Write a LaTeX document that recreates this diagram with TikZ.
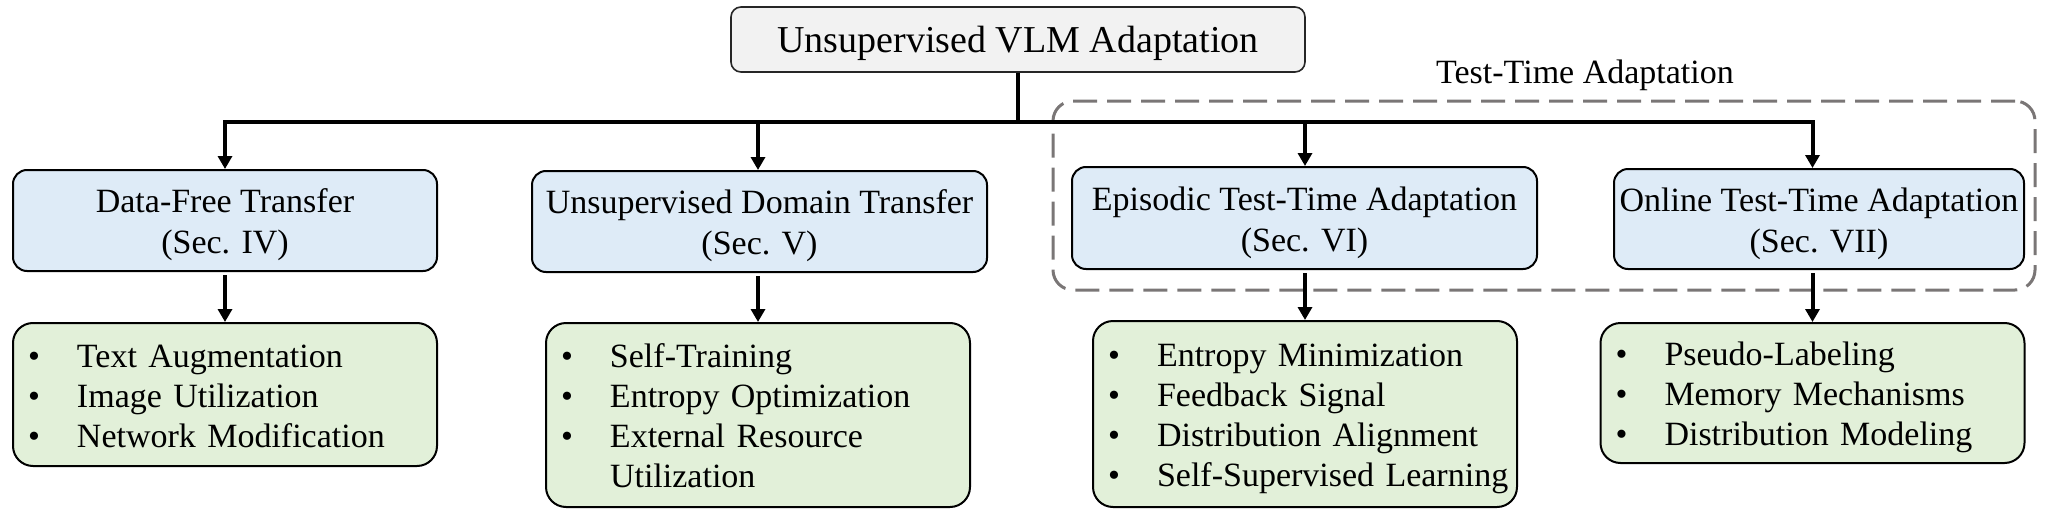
\documentclass[tikz,border=0pt]{standalone}
\usepackage{fontspec}
\setmainfont{Liberation Serif}
\usetikzlibrary{arrows.meta}
\definecolor{rootgray}{RGB}{242,242,242}
\definecolor{secblue}{RGB}{222,235,247}
\definecolor{lstgreen}{RGB}{226,240,217}
\definecolor{ttagray}{RGB}{122,118,118}
\newcommand{\topln}{\rule{0pt}{17.5pt}}
\newcommand{\botln}{\rule[-5pt]{0pt}{5pt}}
\newcommand{\itm}[1]{\makebox[24.5pt][l]{\textbullet}\mbox{#1}}

\begin{document}
\begin{tikzpicture}[>={Triangle[length=6.5pt,width=7pt]},x=.5pt,y=-.5pt,
  root/.style={draw=black!85,line width=.8pt,fill=rootgray,rounded corners=5pt,
    minimum width=287pt,minimum height=32.5pt,inner sep=0pt,
    text height=18.5pt,text depth=5pt,font=\fontsize{19}{23}\selectfont},
  sec/.style={draw=black,line width=1pt,fill=secblue,rounded corners=7pt,
    minimum width=#1,minimum height=50.5pt,inner sep=0pt,align=center,
    font=\fontsize{17}{20.5}\selectfont},
  lst/.style={draw=black,line width=1pt,fill=lstgreen,rounded corners=10pt,
    minimum height=#1,inner xsep=7.5pt,inner ysep=0pt,text width=197pt,align=left,
    font=\fontsize{17}{20}\selectfont},
  tta/.style={draw=ttagray,line width=1.5pt,dash pattern=on 12pt off 5pt,
    rounded corners=10pt,minimum width=491pt,minimum height=94.5pt},
  link/.style={->,line width=2pt}]
\useasboundingbox (0,0) rectangle (2047,514);

% test-time group
\node[tta] (ttabox) at (1544,195.5) {};
\node[inner sep=0pt,font=\fontsize{17}{20}\selectfont] (ttalabel) at (1585,75.5) {Test-Time Adaptation};

\node[root] (root) at (1018,39.5) {Unsupervised VLM Adaptation};

\node[sec=212pt] (dft) at (225,220.5) {\topln Data-Free Transfer\\(Sec. IV)\botln};
\node[sec=227.5pt] (udt) at (759.5,221.5) {\topln Unsupervised Domain Transfer\\(Sec. V)\botln};
\node[sec=232.5pt,minimum height=51pt] (etta) at (1304.5,218) {\topln Episodic Test-Time Adaptation\\(Sec. VI)\botln};
\node[sec=205pt,minimum height=50pt] (otta) at (1819,219) {\topln Online Test-Time Adaptation\\(Sec. VII)\botln};

\node[lst=71.5pt] (dft-list) at (225,394.5)
  {\topln\itm{Text Augmentation}\\\itm{Image Utilization}\\\itm{Network Modification}\botln};
\node[lst=92pt] (udt-list) at (758,415)
  {\topln\itm{Self-Training}\\\itm{Entropy Optimization}\\\itm{External Resource}\\\hspace*{24.5pt}Utilization\botln};
\node[lst=93pt] (etta-list) at (1305,414)
  {\topln\itm{Entropy Minimization}\\\itm{Feedback Signal}\\\itm{Distribution Alignment}\\\itm{Self-Supervised Learning}\botln};
\node[lst=70pt] (otta-list) at (1812.5,393)
  {\topln\itm{Pseudo-Labeling}\\\itm{Memory Mechanisms}\\\itm{Distribution Modeling}\botln};

% tree
\foreach \n in {dft,udt,etta,otta}{
  \draw[link] (root.south) -- ++(0,49) -| (\n-list.north |- \n.north);
  \draw[link,shorten <=1.5pt] (\n-list.north |- \n.south) -- (\n-list.north);
}
\end{tikzpicture}
\end{document}
